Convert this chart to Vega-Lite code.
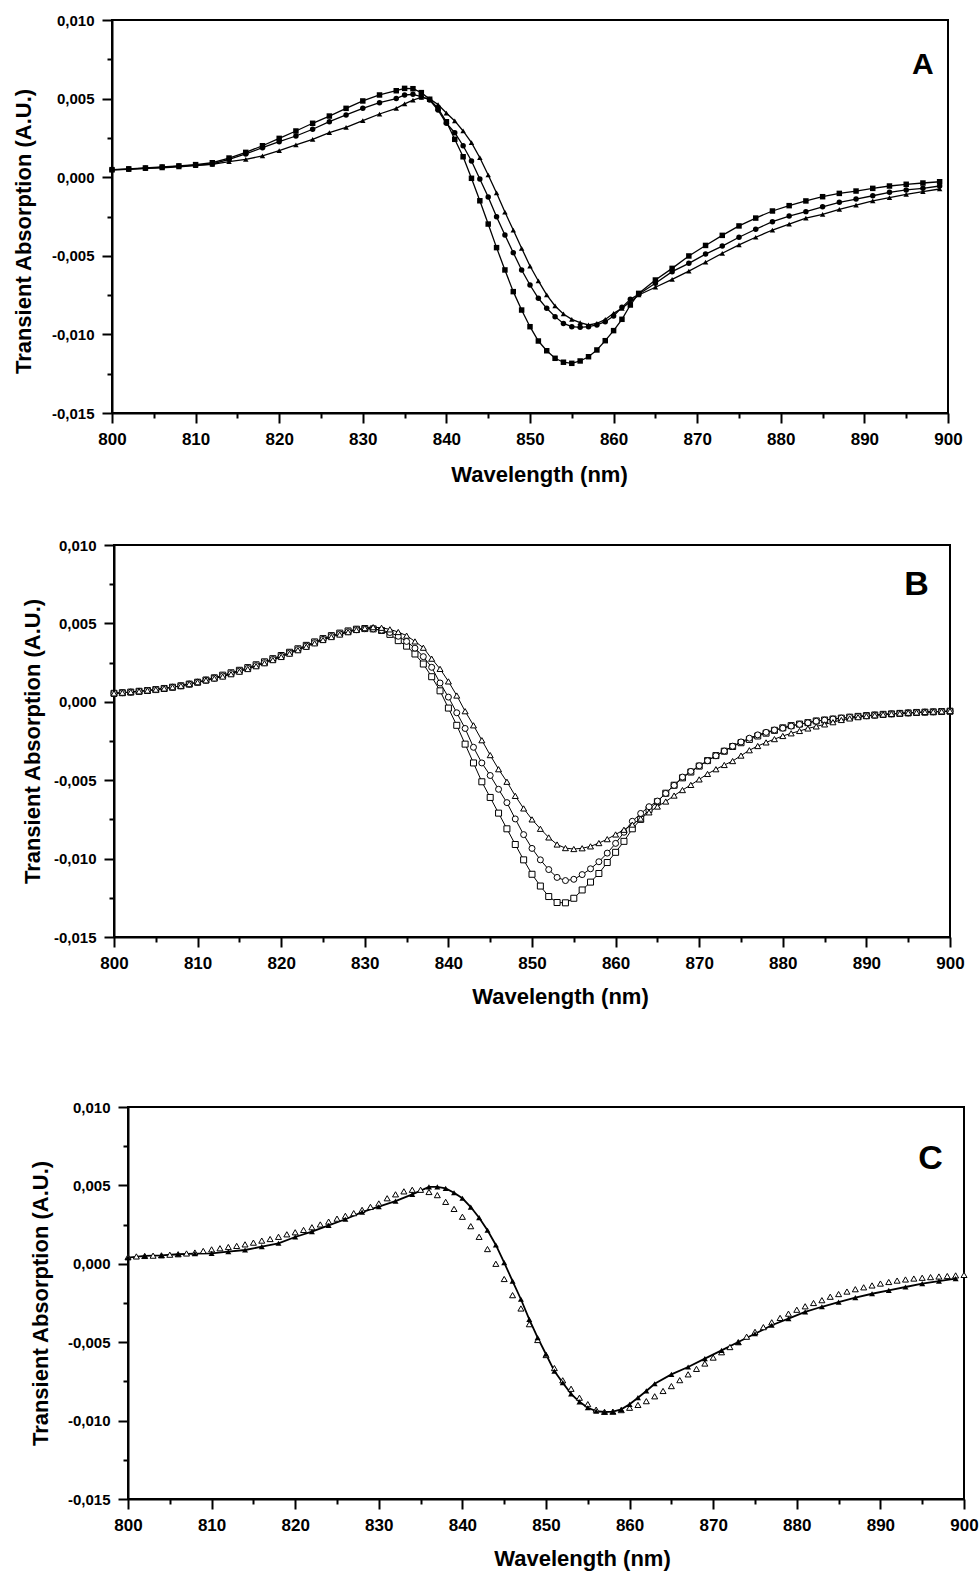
{
  "$schema": "https://vega.github.io/schema/vega-lite/v6.json",
  "background": "white",
  "padding": {"left": 0, "top": 12, "right": 5, "bottom": 2},
  "config": {
    "font": "Liberation Sans",
    "view": {"stroke": "black", "strokeWidth": 2},
    "axis": {
      "domainColor": "black", "domainWidth": 2,
      "tickColor": "black", "tickWidth": 2,
      "labelColor": "black", "labelFont": "Liberation Sans", "labelFontWeight": "bold",
      "titleColor": "black", "titleFont": "Liberation Sans", "titleFontWeight": "bold", "titleFontSize": 22,
      "grid": false, "labelOverlap": false, "labelFlush": false, "labelBound": false
    },
    "axisX": {"labelFontSize": 17, "labelPadding": 8, "titlePadding": 17},
    "axisY": {"labelFontSize": 15, "labelPadding": 8}
  },
  "datasets": {
    "a": [
      {"s":"sq","x":800,"y":0.00048},{"s":"sq","x":802,"y":0.00053},{"s":"sq","x":804,"y":0.00059},{"s":"sq","x":806,"y":0.00065},{"s":"sq","x":808,"y":0.00072},{"s":"sq","x":810,"y":0.0008},{"s":"sq","x":812,"y":0.00092},{"s":"sq","x":814,"y":0.00122},{"s":"sq","x":816,"y":0.00158},{"s":"sq","x":818,"y":0.002},{"s":"sq","x":820,"y":0.00247},{"s":"sq","x":822,"y":0.00294},{"s":"sq","x":824,"y":0.00343},{"s":"sq","x":826,"y":0.00389},{"s":"sq","x":828,"y":0.00438},{"s":"sq","x":830,"y":0.00485},{"s":"sq","x":832,"y":0.00523},{"s":"sq","x":834,"y":0.0055},{"s":"sq","x":835,"y":0.00565},{"s":"sq","x":836,"y":0.00563},{"s":"sq","x":837,"y":0.00538},{"s":"sq","x":838,"y":0.00496},{"s":"sq","x":839,"y":0.00438},{"s":"sq","x":840,"y":0.00353},{"s":"sq","x":841,"y":0.00241},{"s":"sq","x":842,"y":0.0013},{"s":"sq","x":843,"y":-0.00007},{"s":"sq","x":844,"y":-0.0015},{"s":"sq","x":845,"y":-0.00298},{"s":"sq","x":846,"y":-0.00448},{"s":"sq","x":847,"y":-0.0059},{"s":"sq","x":848,"y":-0.00728},{"s":"sq","x":849,"y":-0.00845},{"s":"sq","x":850,"y":-0.00951},{"s":"sq","x":851,"y":-0.01042},{"s":"sq","x":852,"y":-0.01104},{"s":"sq","x":853,"y":-0.01152},{"s":"sq","x":854,"y":-0.01177},{"s":"sq","x":855,"y":-0.01184},{"s":"sq","x":856,"y":-0.01169},{"s":"sq","x":857,"y":-0.01142},{"s":"sq","x":858,"y":-0.01099},{"s":"sq","x":859,"y":-0.0104},{"s":"sq","x":860,"y":-0.00976},{"s":"sq","x":861,"y":-0.00904},{"s":"sq","x":862,"y":-0.00813},{"s":"sq","x":863,"y":-0.00739},{"s":"sq","x":865,"y":-0.00654},{"s":"sq","x":867,"y":-0.0058},{"s":"sq","x":869,"y":-0.00501},{"s":"sq","x":871,"y":-0.00434},{"s":"sq","x":873,"y":-0.0037},{"s":"sq","x":875,"y":-0.0031},{"s":"sq","x":877,"y":-0.0026},{"s":"sq","x":879,"y":-0.00215},{"s":"sq","x":881,"y":-0.00181},{"s":"sq","x":883,"y":-0.00151},{"s":"sq","x":885,"y":-0.00124},{"s":"sq","x":887,"y":-0.00103},{"s":"sq","x":889,"y":-0.00088},{"s":"sq","x":891,"y":-0.00071},{"s":"sq","x":893,"y":-0.00056},{"s":"sq","x":895,"y":-0.00045},{"s":"sq","x":897,"y":-0.00037},{"s":"sq","x":899,"y":-0.00029},
      {"s":"ci","x":800,"y":0.00047},{"s":"ci","x":802,"y":0.00052},{"s":"ci","x":804,"y":0.00057},{"s":"ci","x":806,"y":0.00063},{"s":"ci","x":808,"y":0.0007},{"s":"ci","x":810,"y":0.00077},{"s":"ci","x":812,"y":0.00084},{"s":"ci","x":814,"y":0.00114},{"s":"ci","x":816,"y":0.00148},{"s":"ci","x":818,"y":0.00188},{"s":"ci","x":820,"y":0.00226},{"s":"ci","x":822,"y":0.00262},{"s":"ci","x":824,"y":0.00305},{"s":"ci","x":826,"y":0.00353},{"s":"ci","x":828,"y":0.00396},{"s":"ci","x":830,"y":0.00438},{"s":"ci","x":832,"y":0.00474},{"s":"ci","x":834,"y":0.005},{"s":"ci","x":835,"y":0.00523},{"s":"ci","x":836,"y":0.00527},{"s":"ci","x":837,"y":0.00512},{"s":"ci","x":838,"y":0.00491},{"s":"ci","x":839,"y":0.00427},{"s":"ci","x":840,"y":0.00343},{"s":"ci","x":841,"y":0.00283},{"s":"ci","x":842,"y":0.002},{"s":"ci","x":843,"y":0.00103},{"s":"ci","x":844,"y":-0.00011},{"s":"ci","x":845,"y":-0.00126},{"s":"ci","x":846,"y":-0.00251},{"s":"ci","x":847,"y":-0.00368},{"s":"ci","x":848,"y":-0.0048},{"s":"ci","x":849,"y":-0.0059},{"s":"ci","x":850,"y":-0.00686},{"s":"ci","x":851,"y":-0.0077},{"s":"ci","x":852,"y":-0.00834},{"s":"ci","x":853,"y":-0.00887},{"s":"ci","x":854,"y":-0.0093},{"s":"ci","x":855,"y":-0.00951},{"s":"ci","x":856,"y":-0.00955},{"s":"ci","x":857,"y":-0.00951},{"s":"ci","x":858,"y":-0.0094},{"s":"ci","x":859,"y":-0.00919},{"s":"ci","x":860,"y":-0.00883},{"s":"ci","x":861,"y":-0.00828},{"s":"ci","x":862,"y":-0.00777},{"s":"ci","x":863,"y":-0.00745},{"s":"ci","x":865,"y":-0.00675},{"s":"ci","x":867,"y":-0.00601},{"s":"ci","x":869,"y":-0.00548},{"s":"ci","x":871,"y":-0.00489},{"s":"ci","x":873,"y":-0.00438},{"s":"ci","x":875,"y":-0.00382},{"s":"ci","x":877,"y":-0.00331},{"s":"ci","x":879,"y":-0.00283},{"s":"ci","x":881,"y":-0.00247},{"s":"ci","x":883,"y":-0.00219},{"s":"ci","x":885,"y":-0.00188},{"s":"ci","x":887,"y":-0.0016},{"s":"ci","x":889,"y":-0.00139},{"s":"ci","x":891,"y":-0.00118},{"s":"ci","x":893,"y":-0.00096},{"s":"ci","x":895,"y":-0.00081},{"s":"ci","x":897,"y":-0.00071},{"s":"ci","x":899,"y":-0.00056},
      {"s":"tr","x":800,"y":0.00046},{"s":"tr","x":802,"y":0.0005},{"s":"tr","x":804,"y":0.00056},{"s":"tr","x":806,"y":0.0006},{"s":"tr","x":808,"y":0.00066},{"s":"tr","x":810,"y":0.00073},{"s":"tr","x":812,"y":0.00082},{"s":"tr","x":814,"y":0.00099},{"s":"tr","x":816,"y":0.00114},{"s":"tr","x":818,"y":0.00135},{"s":"tr","x":820,"y":0.00169},{"s":"tr","x":822,"y":0.00205},{"s":"tr","x":824,"y":0.00241},{"s":"tr","x":826,"y":0.00283},{"s":"tr","x":828,"y":0.00317},{"s":"tr","x":830,"y":0.0036},{"s":"tr","x":832,"y":0.00402},{"s":"tr","x":834,"y":0.00438},{"s":"tr","x":835,"y":0.00466},{"s":"tr","x":836,"y":0.0049},{"s":"tr","x":837,"y":0.00508},{"s":"tr","x":838,"y":0.00498},{"s":"tr","x":839,"y":0.00462},{"s":"tr","x":840,"y":0.00408},{"s":"tr","x":841,"y":0.00358},{"s":"tr","x":842,"y":0.00294},{"s":"tr","x":843,"y":0.0022},{"s":"tr","x":844,"y":0.00124},{"s":"tr","x":845,"y":0.00014},{"s":"tr","x":846,"y":-0.001},{"s":"tr","x":847,"y":-0.00222},{"s":"tr","x":848,"y":-0.00336},{"s":"tr","x":849,"y":-0.00452},{"s":"tr","x":850,"y":-0.00565},{"s":"tr","x":851,"y":-0.0066},{"s":"tr","x":852,"y":-0.00749},{"s":"tr","x":853,"y":-0.00819},{"s":"tr","x":854,"y":-0.0087},{"s":"tr","x":855,"y":-0.00904},{"s":"tr","x":856,"y":-0.00925},{"s":"tr","x":857,"y":-0.0094},{"s":"tr","x":858,"y":-0.0093},{"s":"tr","x":859,"y":-0.00905},{"s":"tr","x":860,"y":-0.00866},{"s":"tr","x":861,"y":-0.00834},{"s":"tr","x":862,"y":-0.00792},{"s":"tr","x":863,"y":-0.00749},{"s":"tr","x":865,"y":-0.007},{"s":"tr","x":867,"y":-0.0065},{"s":"tr","x":869,"y":-0.00597},{"s":"tr","x":871,"y":-0.00541},{"s":"tr","x":873,"y":-0.00484},{"s":"tr","x":875,"y":-0.00431},{"s":"tr","x":877,"y":-0.00382},{"s":"tr","x":879,"y":-0.00336},{"s":"tr","x":881,"y":-0.00298},{"s":"tr","x":883,"y":-0.00261},{"s":"tr","x":885,"y":-0.00236},{"s":"tr","x":887,"y":-0.00204},{"s":"tr","x":889,"y":-0.00177},{"s":"tr","x":891,"y":-0.00151},{"s":"tr","x":893,"y":-0.0013},{"s":"tr","x":895,"y":-0.00109},{"s":"tr","x":897,"y":-0.00092},{"s":"tr","x":899,"y":-0.00075}
    ],
    "b": [
      {"s":"sq","x":800,"y":0.00054},{"s":"sq","x":801,"y":0.00058},{"s":"sq","x":802,"y":0.00062},{"s":"sq","x":803,"y":0.00067},{"s":"sq","x":804,"y":0.00072},{"s":"sq","x":805,"y":0.00078},{"s":"sq","x":806,"y":0.00085},{"s":"sq","x":807,"y":0.00093},{"s":"sq","x":808,"y":0.00102},{"s":"sq","x":809,"y":0.00113},{"s":"sq","x":810,"y":0.00125},{"s":"sq","x":811,"y":0.00139},{"s":"sq","x":812,"y":0.00153},{"s":"sq","x":813,"y":0.0017},{"s":"sq","x":814,"y":0.00185},{"s":"sq","x":815,"y":0.00201},{"s":"sq","x":816,"y":0.00218},{"s":"sq","x":817,"y":0.00236},{"s":"sq","x":818,"y":0.00255},{"s":"sq","x":819,"y":0.00275},{"s":"sq","x":820,"y":0.00295},{"s":"sq","x":821,"y":0.00316},{"s":"sq","x":822,"y":0.00338},{"s":"sq","x":823,"y":0.0036},{"s":"sq","x":824,"y":0.00382},{"s":"sq","x":825,"y":0.00403},{"s":"sq","x":826,"y":0.00422},{"s":"sq","x":827,"y":0.00438},{"s":"sq","x":828,"y":0.00452},{"s":"sq","x":829,"y":0.00463},{"s":"sq","x":830,"y":0.00467},{"s":"sq","x":831,"y":0.00465},{"s":"sq","x":832,"y":0.00455},{"s":"sq","x":833,"y":0.0043},{"s":"sq","x":834,"y":0.0039},{"s":"sq","x":835,"y":0.00355},{"s":"sq","x":836,"y":0.00305},{"s":"sq","x":837,"y":0.00241},{"s":"sq","x":838,"y":0.0016},{"s":"sq","x":839,"y":0.0007},{"s":"sq","x":840,"y":-0.0004},{"s":"sq","x":841,"y":-0.0015},{"s":"sq","x":842,"y":-0.0027},{"s":"sq","x":843,"y":-0.0039},{"s":"sq","x":844,"y":-0.0051},{"s":"sq","x":845,"y":-0.0061},{"s":"sq","x":846,"y":-0.0071},{"s":"sq","x":847,"y":-0.0081},{"s":"sq","x":848,"y":-0.0091},{"s":"sq","x":849,"y":-0.01008},{"s":"sq","x":850,"y":-0.011},{"s":"sq","x":851,"y":-0.01175},{"s":"sq","x":852,"y":-0.01242},{"s":"sq","x":853,"y":-0.0128},{"s":"sq","x":854,"y":-0.01282},{"s":"sq","x":855,"y":-0.01253},{"s":"sq","x":856,"y":-0.012},{"s":"sq","x":857,"y":-0.0115},{"s":"sq","x":858,"y":-0.01095},{"s":"sq","x":859,"y":-0.01025},{"s":"sq","x":860,"y":-0.0096},{"s":"sq","x":861,"y":-0.0089},{"s":"sq","x":862,"y":-0.0081},{"s":"sq","x":863,"y":-0.0075},{"s":"sq","x":864,"y":-0.00686},{"s":"sq","x":865,"y":-0.00637},{"s":"sq","x":866,"y":-0.00583},{"s":"sq","x":867,"y":-0.00532},{"s":"sq","x":868,"y":-0.00485},{"s":"sq","x":869,"y":-0.00448},{"s":"sq","x":870,"y":-0.0041},{"s":"sq","x":871,"y":-0.00375},{"s":"sq","x":872,"y":-0.00343},{"s":"sq","x":873,"y":-0.00315},{"s":"sq","x":874,"y":-0.00285},{"s":"sq","x":875,"y":-0.00261},{"s":"sq","x":876,"y":-0.0024},{"s":"sq","x":877,"y":-0.00218},{"s":"sq","x":878,"y":-0.002},{"s":"sq","x":879,"y":-0.00182},{"s":"sq","x":880,"y":-0.00166},{"s":"sq","x":881,"y":-0.00152},{"s":"sq","x":882,"y":-0.00142},{"s":"sq","x":883,"y":-0.00133},{"s":"sq","x":884,"y":-0.00122},{"s":"sq","x":885,"y":-0.00116},{"s":"sq","x":886,"y":-0.0011},{"s":"sq","x":887,"y":-0.00104},{"s":"sq","x":888,"y":-0.00098},{"s":"sq","x":889,"y":-0.00093},{"s":"sq","x":890,"y":-0.00088},{"s":"sq","x":891,"y":-0.00084},{"s":"sq","x":892,"y":-0.0008},{"s":"sq","x":893,"y":-0.00077},{"s":"sq","x":894,"y":-0.00074},{"s":"sq","x":895,"y":-0.00071},{"s":"sq","x":896,"y":-0.00068},{"s":"sq","x":897,"y":-0.00066},{"s":"sq","x":898,"y":-0.00064},{"s":"sq","x":899,"y":-0.00062},{"s":"sq","x":900,"y":-0.0006},
      {"s":"ci","x":800,"y":0.00054},{"s":"ci","x":801,"y":0.00058},{"s":"ci","x":802,"y":0.00062},{"s":"ci","x":803,"y":0.00067},{"s":"ci","x":804,"y":0.00072},{"s":"ci","x":805,"y":0.00078},{"s":"ci","x":806,"y":0.00085},{"s":"ci","x":807,"y":0.00093},{"s":"ci","x":808,"y":0.00102},{"s":"ci","x":809,"y":0.00113},{"s":"ci","x":810,"y":0.00125},{"s":"ci","x":811,"y":0.00138},{"s":"ci","x":812,"y":0.00151},{"s":"ci","x":813,"y":0.00165},{"s":"ci","x":814,"y":0.0018},{"s":"ci","x":815,"y":0.00196},{"s":"ci","x":816,"y":0.00213},{"s":"ci","x":817,"y":0.00231},{"s":"ci","x":818,"y":0.0025},{"s":"ci","x":819,"y":0.0027},{"s":"ci","x":820,"y":0.0029},{"s":"ci","x":821,"y":0.00311},{"s":"ci","x":822,"y":0.00333},{"s":"ci","x":823,"y":0.00355},{"s":"ci","x":824,"y":0.00377},{"s":"ci","x":825,"y":0.00398},{"s":"ci","x":826,"y":0.00417},{"s":"ci","x":827,"y":0.00433},{"s":"ci","x":828,"y":0.00447},{"s":"ci","x":829,"y":0.0046},{"s":"ci","x":830,"y":0.00466},{"s":"ci","x":831,"y":0.00465},{"s":"ci","x":832,"y":0.00457},{"s":"ci","x":833,"y":0.00442},{"s":"ci","x":834,"y":0.00418},{"s":"ci","x":835,"y":0.00385},{"s":"ci","x":836,"y":0.00342},{"s":"ci","x":837,"y":0.00288},{"s":"ci","x":838,"y":0.0022},{"s":"ci","x":839,"y":0.0012},{"s":"ci","x":840,"y":0.0003},{"s":"ci","x":841,"y":-0.0007},{"s":"ci","x":842,"y":-0.0017},{"s":"ci","x":843,"y":-0.0029},{"s":"ci","x":844,"y":-0.0039},{"s":"ci","x":845,"y":-0.0047},{"s":"ci","x":846,"y":-0.00558},{"s":"ci","x":847,"y":-0.00643},{"s":"ci","x":848,"y":-0.00747},{"s":"ci","x":849,"y":-0.00847},{"s":"ci","x":850,"y":-0.00935},{"s":"ci","x":851,"y":-0.01008},{"s":"ci","x":852,"y":-0.0107},{"s":"ci","x":853,"y":-0.0112},{"s":"ci","x":854,"y":-0.0114},{"s":"ci","x":855,"y":-0.01132},{"s":"ci","x":856,"y":-0.01102},{"s":"ci","x":857,"y":-0.01065},{"s":"ci","x":858,"y":-0.0102},{"s":"ci","x":859,"y":-0.00965},{"s":"ci","x":860,"y":-0.00903},{"s":"ci","x":861,"y":-0.00832},{"s":"ci","x":862,"y":-0.00762},{"s":"ci","x":863,"y":-0.00712},{"s":"ci","x":864,"y":-0.00669},{"s":"ci","x":865,"y":-0.00633},{"s":"ci","x":866,"y":-0.00584},{"s":"ci","x":867,"y":-0.00533},{"s":"ci","x":868,"y":-0.0048},{"s":"ci","x":869,"y":-0.00444},{"s":"ci","x":870,"y":-0.00408},{"s":"ci","x":871,"y":-0.00376},{"s":"ci","x":872,"y":-0.00344},{"s":"ci","x":873,"y":-0.00314},{"s":"ci","x":874,"y":-0.00283},{"s":"ci","x":875,"y":-0.00256},{"s":"ci","x":876,"y":-0.00232},{"s":"ci","x":877,"y":-0.00211},{"s":"ci","x":878,"y":-0.00195},{"s":"ci","x":879,"y":-0.0018},{"s":"ci","x":880,"y":-0.00168},{"s":"ci","x":881,"y":-0.00155},{"s":"ci","x":882,"y":-0.00144},{"s":"ci","x":883,"y":-0.00134},{"s":"ci","x":884,"y":-0.00124},{"s":"ci","x":885,"y":-0.00117},{"s":"ci","x":886,"y":-0.0011},{"s":"ci","x":887,"y":-0.00104},{"s":"ci","x":888,"y":-0.00099},{"s":"ci","x":889,"y":-0.00094},{"s":"ci","x":890,"y":-0.00089},{"s":"ci","x":891,"y":-0.00085},{"s":"ci","x":892,"y":-0.00081},{"s":"ci","x":893,"y":-0.00077},{"s":"ci","x":894,"y":-0.00074},{"s":"ci","x":895,"y":-0.00071},{"s":"ci","x":896,"y":-0.00068},{"s":"ci","x":897,"y":-0.00066},{"s":"ci","x":898,"y":-0.00064},{"s":"ci","x":899,"y":-0.00062},{"s":"ci","x":900,"y":-0.0006},
      {"s":"tr","x":800,"y":0.00054},{"s":"tr","x":801,"y":0.00058},{"s":"tr","x":802,"y":0.00062},{"s":"tr","x":803,"y":0.00067},{"s":"tr","x":804,"y":0.00072},{"s":"tr","x":805,"y":0.00078},{"s":"tr","x":806,"y":0.00085},{"s":"tr","x":807,"y":0.00093},{"s":"tr","x":808,"y":0.00102},{"s":"tr","x":809,"y":0.00113},{"s":"tr","x":810,"y":0.00125},{"s":"tr","x":811,"y":0.00137},{"s":"tr","x":812,"y":0.00149},{"s":"tr","x":813,"y":0.00161},{"s":"tr","x":814,"y":0.00176},{"s":"tr","x":815,"y":0.00192},{"s":"tr","x":816,"y":0.00209},{"s":"tr","x":817,"y":0.00227},{"s":"tr","x":818,"y":0.00246},{"s":"tr","x":819,"y":0.00266},{"s":"tr","x":820,"y":0.00286},{"s":"tr","x":821,"y":0.00307},{"s":"tr","x":822,"y":0.00329},{"s":"tr","x":823,"y":0.00351},{"s":"tr","x":824,"y":0.00373},{"s":"tr","x":825,"y":0.00394},{"s":"tr","x":826,"y":0.00413},{"s":"tr","x":827,"y":0.00429},{"s":"tr","x":828,"y":0.00444},{"s":"tr","x":829,"y":0.00458},{"s":"tr","x":830,"y":0.0047},{"s":"tr","x":831,"y":0.00476},{"s":"tr","x":832,"y":0.00472},{"s":"tr","x":833,"y":0.00462},{"s":"tr","x":834,"y":0.00445},{"s":"tr","x":835,"y":0.00422},{"s":"tr","x":836,"y":0.00385},{"s":"tr","x":837,"y":0.00345},{"s":"tr","x":838,"y":0.00275},{"s":"tr","x":839,"y":0.0021},{"s":"tr","x":840,"y":0.0013},{"s":"tr","x":841,"y":0.0004},{"s":"tr","x":842,"y":-0.0006},{"s":"tr","x":843,"y":-0.0015},{"s":"tr","x":844,"y":-0.00245},{"s":"tr","x":845,"y":-0.0034},{"s":"tr","x":846,"y":-0.0043},{"s":"tr","x":847,"y":-0.0051},{"s":"tr","x":848,"y":-0.006},{"s":"tr","x":849,"y":-0.0068},{"s":"tr","x":850,"y":-0.0075},{"s":"tr","x":851,"y":-0.0081},{"s":"tr","x":852,"y":-0.00865},{"s":"tr","x":853,"y":-0.0091},{"s":"tr","x":854,"y":-0.00933},{"s":"tr","x":855,"y":-0.00939},{"s":"tr","x":856,"y":-0.00934},{"s":"tr","x":857,"y":-0.00922},{"s":"tr","x":858,"y":-0.00901},{"s":"tr","x":859,"y":-0.00876},{"s":"tr","x":860,"y":-0.00846},{"s":"tr","x":861,"y":-0.00816},{"s":"tr","x":862,"y":-0.00783},{"s":"tr","x":863,"y":-0.00745},{"s":"tr","x":864,"y":-0.00705},{"s":"tr","x":865,"y":-0.00668},{"s":"tr","x":866,"y":-0.00636},{"s":"tr","x":867,"y":-0.00598},{"s":"tr","x":868,"y":-0.00563},{"s":"tr","x":869,"y":-0.0053},{"s":"tr","x":870,"y":-0.00495},{"s":"tr","x":871,"y":-0.0046},{"s":"tr","x":872,"y":-0.0043},{"s":"tr","x":873,"y":-0.00403},{"s":"tr","x":874,"y":-0.00378},{"s":"tr","x":875,"y":-0.00343},{"s":"tr","x":876,"y":-0.00309},{"s":"tr","x":877,"y":-0.00282},{"s":"tr","x":878,"y":-0.00259},{"s":"tr","x":879,"y":-0.00238},{"s":"tr","x":880,"y":-0.00218},{"s":"tr","x":881,"y":-0.00201},{"s":"tr","x":882,"y":-0.00186},{"s":"tr","x":883,"y":-0.0017},{"s":"tr","x":884,"y":-0.00157},{"s":"tr","x":885,"y":-0.00144},{"s":"tr","x":886,"y":-0.0013},{"s":"tr","x":887,"y":-0.00116},{"s":"tr","x":888,"y":-0.00106},{"s":"tr","x":889,"y":-0.00098},{"s":"tr","x":890,"y":-0.00091},{"s":"tr","x":891,"y":-0.00086},{"s":"tr","x":892,"y":-0.00081},{"s":"tr","x":893,"y":-0.00077},{"s":"tr","x":894,"y":-0.00074},{"s":"tr","x":895,"y":-0.0007},{"s":"tr","x":896,"y":-0.00068},{"s":"tr","x":897,"y":-0.00065},{"s":"tr","x":898,"y":-0.00063},{"s":"tr","x":899,"y":-0.00061},{"s":"tr","x":900,"y":-0.00059}
    ],
    "c": [
      {"s":"f","x":800,"y":0.00039},{"s":"f","x":802,"y":0.0005},{"s":"f","x":804,"y":0.00054},{"s":"f","x":806,"y":0.00061},{"s":"f","x":808,"y":0.00065},{"s":"f","x":810,"y":0.00067},{"s":"f","x":812,"y":0.00077},{"s":"f","x":814,"y":0.00088},{"s":"f","x":816,"y":0.00109},{"s":"f","x":818,"y":0.00131},{"s":"f","x":820,"y":0.00171},{"s":"f","x":822,"y":0.00205},{"s":"f","x":824,"y":0.00245},{"s":"f","x":826,"y":0.00284},{"s":"f","x":828,"y":0.0033},{"s":"f","x":830,"y":0.00364},{"s":"f","x":832,"y":0.004},{"s":"f","x":834,"y":0.00443},{"s":"f","x":836,"y":0.0049},{"s":"f","x":837,"y":0.0049},{"s":"f","x":838,"y":0.00481},{"s":"f","x":839,"y":0.00453},{"s":"f","x":840,"y":0.00418},{"s":"f","x":841,"y":0.00362},{"s":"f","x":842,"y":0.00294},{"s":"f","x":843,"y":0.00214},{"s":"f","x":844,"y":0.0012},{"s":"f","x":845,"y":0.00007},{"s":"f","x":846,"y":-0.0011},{"s":"f","x":847,"y":-0.00226},{"s":"f","x":848,"y":-0.00354},{"s":"f","x":849,"y":-0.00471},{"s":"f","x":850,"y":-0.00577},{"s":"f","x":851,"y":-0.00684},{"s":"f","x":852,"y":-0.00758},{"s":"f","x":853,"y":-0.00829},{"s":"f","x":854,"y":-0.0088},{"s":"f","x":855,"y":-0.00918},{"s":"f","x":856,"y":-0.00939},{"s":"f","x":857,"y":-0.00945},{"s":"f","x":858,"y":-0.00943},{"s":"f","x":859,"y":-0.00928},{"s":"f","x":860,"y":-0.00896},{"s":"f","x":861,"y":-0.00854},{"s":"f","x":862,"y":-0.00811},{"s":"f","x":863,"y":-0.00765},{"s":"f","x":865,"y":-0.00705},{"s":"f","x":867,"y":-0.00658},{"s":"f","x":869,"y":-0.00605},{"s":"f","x":871,"y":-0.00552},{"s":"f","x":873,"y":-0.00499},{"s":"f","x":875,"y":-0.00446},{"s":"f","x":877,"y":-0.00392},{"s":"f","x":879,"y":-0.0035},{"s":"f","x":881,"y":-0.00307},{"s":"f","x":883,"y":-0.00274},{"s":"f","x":885,"y":-0.00244},{"s":"f","x":887,"y":-0.00216},{"s":"f","x":889,"y":-0.00191},{"s":"f","x":891,"y":-0.00169},{"s":"f","x":893,"y":-0.00148},{"s":"f","x":895,"y":-0.00127},{"s":"f","x":897,"y":-0.0011},{"s":"f","x":899,"y":-0.00095},
      {"s":"o","x":800,"y":0.00043},{"s":"o","x":801,"y":0.00047},{"s":"o","x":802,"y":0.0005},{"s":"o","x":803,"y":0.00052},{"s":"o","x":804,"y":0.00054},{"s":"o","x":805,"y":0.00058},{"s":"o","x":806,"y":0.00061},{"s":"o","x":807,"y":0.00066},{"s":"o","x":808,"y":0.00072},{"s":"o","x":809,"y":0.00082},{"s":"o","x":810,"y":0.00092},{"s":"o","x":811,"y":0.00099},{"s":"o","x":812,"y":0.00107},{"s":"o","x":813,"y":0.00114},{"s":"o","x":814,"y":0.00124},{"s":"o","x":815,"y":0.00135},{"s":"o","x":816,"y":0.00148},{"s":"o","x":817,"y":0.00158},{"s":"o","x":818,"y":0.00172},{"s":"o","x":819,"y":0.00188},{"s":"o","x":820,"y":0.00201},{"s":"o","x":821,"y":0.00216},{"s":"o","x":822,"y":0.00233},{"s":"o","x":823,"y":0.00251},{"s":"o","x":824,"y":0.00269},{"s":"o","x":825,"y":0.00288},{"s":"o","x":826,"y":0.00306},{"s":"o","x":827,"y":0.00323},{"s":"o","x":828,"y":0.00344},{"s":"o","x":829,"y":0.00363},{"s":"o","x":830,"y":0.00385},{"s":"o","x":831,"y":0.00418},{"s":"o","x":832,"y":0.00443},{"s":"o","x":833,"y":0.00462},{"s":"o","x":834,"y":0.00472},{"s":"o","x":835,"y":0.00472},{"s":"o","x":836,"y":0.00458},{"s":"o","x":837,"y":0.00438},{"s":"o","x":838,"y":0.00395},{"s":"o","x":839,"y":0.0035},{"s":"o","x":840,"y":0.003},{"s":"o","x":841,"y":0.0024},{"s":"o","x":842,"y":0.00172},{"s":"o","x":843,"y":0.00094},{"s":"o","x":844,"y":0.0},{"s":"o","x":845,"y":-0.00097},{"s":"o","x":846,"y":-0.002},{"s":"o","x":847,"y":-0.00285},{"s":"o","x":848,"y":-0.00385},{"s":"o","x":849,"y":-0.00486},{"s":"o","x":850,"y":-0.00582},{"s":"o","x":851,"y":-0.00665},{"s":"o","x":852,"y":-0.00743},{"s":"o","x":853,"y":-0.00797},{"s":"o","x":854,"y":-0.00854},{"s":"o","x":855,"y":-0.00895},{"s":"o","x":856,"y":-0.0093},{"s":"o","x":857,"y":-0.00944},{"s":"o","x":858,"y":-0.00943},{"s":"o","x":859,"y":-0.00933},{"s":"o","x":860,"y":-0.00918},{"s":"o","x":861,"y":-0.009},{"s":"o","x":862,"y":-0.00876},{"s":"o","x":863,"y":-0.00845},{"s":"o","x":864,"y":-0.00811},{"s":"o","x":865,"y":-0.0078},{"s":"o","x":866,"y":-0.00742},{"s":"o","x":867,"y":-0.00705},{"s":"o","x":868,"y":-0.0067},{"s":"o","x":869,"y":-0.00636},{"s":"o","x":870,"y":-0.00598},{"s":"o","x":871,"y":-0.00564},{"s":"o","x":872,"y":-0.00531},{"s":"o","x":873,"y":-0.005},{"s":"o","x":874,"y":-0.00465},{"s":"o","x":875,"y":-0.00434},{"s":"o","x":876,"y":-0.00404},{"s":"o","x":877,"y":-0.00373},{"s":"o","x":878,"y":-0.00345},{"s":"o","x":879,"y":-0.00318},{"s":"o","x":880,"y":-0.00293},{"s":"o","x":881,"y":-0.00271},{"s":"o","x":882,"y":-0.0025},{"s":"o","x":883,"y":-0.00232},{"s":"o","x":884,"y":-0.0021},{"s":"o","x":885,"y":-0.00193},{"s":"o","x":886,"y":-0.00177},{"s":"o","x":887,"y":-0.00162},{"s":"o","x":888,"y":-0.0015},{"s":"o","x":889,"y":-0.00138},{"s":"o","x":890,"y":-0.00126},{"s":"o","x":891,"y":-0.00116},{"s":"o","x":892,"y":-0.00107},{"s":"o","x":893,"y":-0.001},{"s":"o","x":894,"y":-0.00094},{"s":"o","x":895,"y":-0.00089},{"s":"o","x":896,"y":-0.00085},{"s":"o","x":897,"y":-0.00081},{"s":"o","x":898,"y":-0.00078},{"s":"o","x":899,"y":-0.00074},{"s":"o","x":900,"y":-0.00071}
    ]
  },
  "spacing": 91,
  "vconcat": [
    {
      "spacing": 51,
      "vconcat": [
        {
          "spacing": 0,
          "hconcat": [
            {"width": 11, "height": 4, "view": {"stroke": null}, "data": {"values": [{"k": 1}]}, "mark": {"type": "point", "opacity": 0}, "encoding": {}},
            {
              "width": 836, "height": 393,
              "data": {"name": "a"},
              "encoding": {
                "x": {"field": "x", "type": "quantitative", "scale": {"domain": [800, 900], "nice": false, "zero": false},
                  "axis": {"title": "Wavelength (nm)", "titleX": 427, "values": [800,805,810,815,820,825,830,835,840,845,850,855,860,865,870,875,880,885,890,895,900],
                    "labelExpr": "datum.value % 10 === 0 ? datum.label : ''",
                    "tickSize": {"condition": {"test": "datum.value % 10 === 0", "value": 10}, "value": 5}}},
                "y": {"field": "y", "type": "quantitative", "scale": {"domain": [-0.015, 0.01], "nice": false, "zero": false},
                  "axis": {"title": "Transient Absorption (A.U.)", "titlePadding": 16, "titleY": 211,
                    "values": [-0.015,-0.0125,-0.01,-0.0075,-0.005,-0.0025,0,0.0025,0.005,0.0075,0.01],
                    "labelExpr": "round(datum.value*10000) % 50 === 0 ? (datum.value < -0.0000001 ? '-' : '') + replace(format(abs(datum.value), '.3f'), '.', ',') : ''",
                    "tickSize": {"condition": {"test": "round(datum.value*10000) % 50 === 0", "value": 10}, "value": 5}}}
              },
              "layer": [
                {"mark": {"type": "line", "color": "black", "strokeWidth": 1.3}, "encoding": {"detail": {"field": "s"}}},
                {"mark": {"type": "point", "filled": true, "color": "black", "opacity": 1, "size": 30},
                  "encoding": {"shape": {"field": "s", "type": "nominal", "legend": null, "scale": {"domain": ["sq","ci","tr"], "range": ["square","circle","triangle-up"]}}}},
                {"data": {"values": [{"x": 897, "y": 0.00656, "t": "A"}]},
                  "mark": {"type": "text", "fontSize": 30, "fontWeight": "bold", "align": "center", "baseline": "alphabetic", "color": "black"},
                  "encoding": {"text": {"field": "t"}}}
              ]
            }
          ]
        },
        {
          "spacing": 0,
          "hconcat": [
            {"width": 20, "height": 4, "view": {"stroke": null}, "data": {"values": [{"k": 1}]}, "mark": {"type": "point", "opacity": 0}, "encoding": {}},
            {
              "width": 836, "height": 392,
              "data": {"name": "b"},
              "encoding": {
                "x": {"field": "x", "type": "quantitative", "scale": {"domain": [800, 900], "nice": false, "zero": false},
                  "axis": {"title": "Wavelength (nm)", "titleX": 446, "titlePadding": 15, "values": [800,805,810,815,820,825,830,835,840,845,850,855,860,865,870,875,880,885,890,895,900],
                    "labelExpr": "datum.value % 10 === 0 ? datum.label : ''",
                    "tickSize": {"condition": {"test": "datum.value % 10 === 0", "value": 10}, "value": 5}}},
                "y": {"field": "y", "type": "quantitative", "scale": {"domain": [-0.015, 0.01], "nice": false, "zero": false},
                  "axis": {"title": "Transient Absorption (A.U.)", "titlePadding": 9,
                    "values": [-0.015,-0.0125,-0.01,-0.0075,-0.005,-0.0025,0,0.0025,0.005,0.0075,0.01],
                    "labelExpr": "round(datum.value*10000) % 50 === 0 ? (datum.value < -0.0000001 ? '-' : '') + replace(format(abs(datum.value), '.3f'), '.', ',') : ''",
                    "tickSize": {"condition": {"test": "round(datum.value*10000) % 50 === 0", "value": 10}, "value": 5}}}
              },
              "layer": [
                {"mark": {"type": "line", "color": "black", "strokeWidth": 1}, "encoding": {"detail": {"field": "s"}}},
                {"mark": {"type": "point", "filled": true, "fill": "white", "stroke": "black", "strokeWidth": 1, "opacity": 1, "size": 36},
                  "encoding": {"shape": {"field": "s", "type": "nominal", "legend": null, "scale": {"domain": ["sq","ci","tr"], "range": ["square","circle","triangle-up"]}}}},
                {"data": {"values": [{"x": 896, "y": 0.00681, "t": "B"}]},
                  "mark": {"type": "text", "fontSize": 34, "fontWeight": "bold", "align": "center", "baseline": "alphabetic", "color": "black"},
                  "encoding": {"text": {"field": "t"}}}
              ]
            }
          ]
        }
      ]
    },
    {
      "spacing": 0,
      "hconcat": [
        {"width": 27.5, "height": 4, "view": {"stroke": null}, "data": {"values": [{"k": 1}]}, "mark": {"type": "point", "opacity": 0}, "encoding": {}},
        {
          "width": 836, "height": 392,
          "data": {"name": "c"},
          "encoding": {
            "x": {"field": "x", "type": "quantitative", "scale": {"domain": [800, 900], "nice": false, "zero": false},
              "axis": {"title": "Wavelength (nm)", "titleX": 454, "titlePadding": 15, "values": [800,805,810,815,820,825,830,835,840,845,850,855,860,865,870,875,880,885,890,895,900],
                "labelExpr": "datum.value % 10 === 0 ? datum.label : ''",
                "tickSize": {"condition": {"test": "datum.value % 10 === 0", "value": 10}, "value": 5}}},
            "y": {"field": "y", "type": "quantitative", "scale": {"domain": [-0.015, 0.01], "nice": false, "zero": false},
              "axis": {"title": "Transient Absorption (A.U.)", "titlePadding": 15,
                "values": [-0.015,-0.0125,-0.01,-0.0075,-0.005,-0.0025,0,0.0025,0.005,0.0075,0.01],
                "labelExpr": "round(datum.value*10000) % 50 === 0 ? (datum.value < -0.0000001 ? '-' : '') + replace(format(abs(datum.value), '.3f'), '.', ',') : ''",
                "tickSize": {"condition": {"test": "round(datum.value*10000) % 50 === 0", "value": 10}, "value": 5}}}
          },
          "layer": [
            {"transform": [{"filter": "datum.s === 'f'"}], "mark": {"type": "line", "color": "black", "strokeWidth": 1.8}, "encoding": {}},
            {"transform": [{"filter": "datum.s === 'o'"}], "mark": {"type": "point", "shape": "triangle-up", "filled": true, "fill": "white", "stroke": "black", "strokeWidth": 1, "opacity": 1, "size": 36}, "encoding": {}},
            {"transform": [{"filter": "datum.s === 'f'"}], "mark": {"type": "point", "shape": "triangle-up", "filled": true, "color": "black", "opacity": 1, "size": 36}, "encoding": {}},
            {"data": {"values": [{"x": 896, "y": 0.00603, "t": "C"}]},
              "mark": {"type": "text", "fontSize": 34, "fontWeight": "bold", "align": "center", "baseline": "alphabetic", "color": "black"},
              "encoding": {"text": {"field": "t"}}}
          ]
        }
      ]
    }
  ]
}
